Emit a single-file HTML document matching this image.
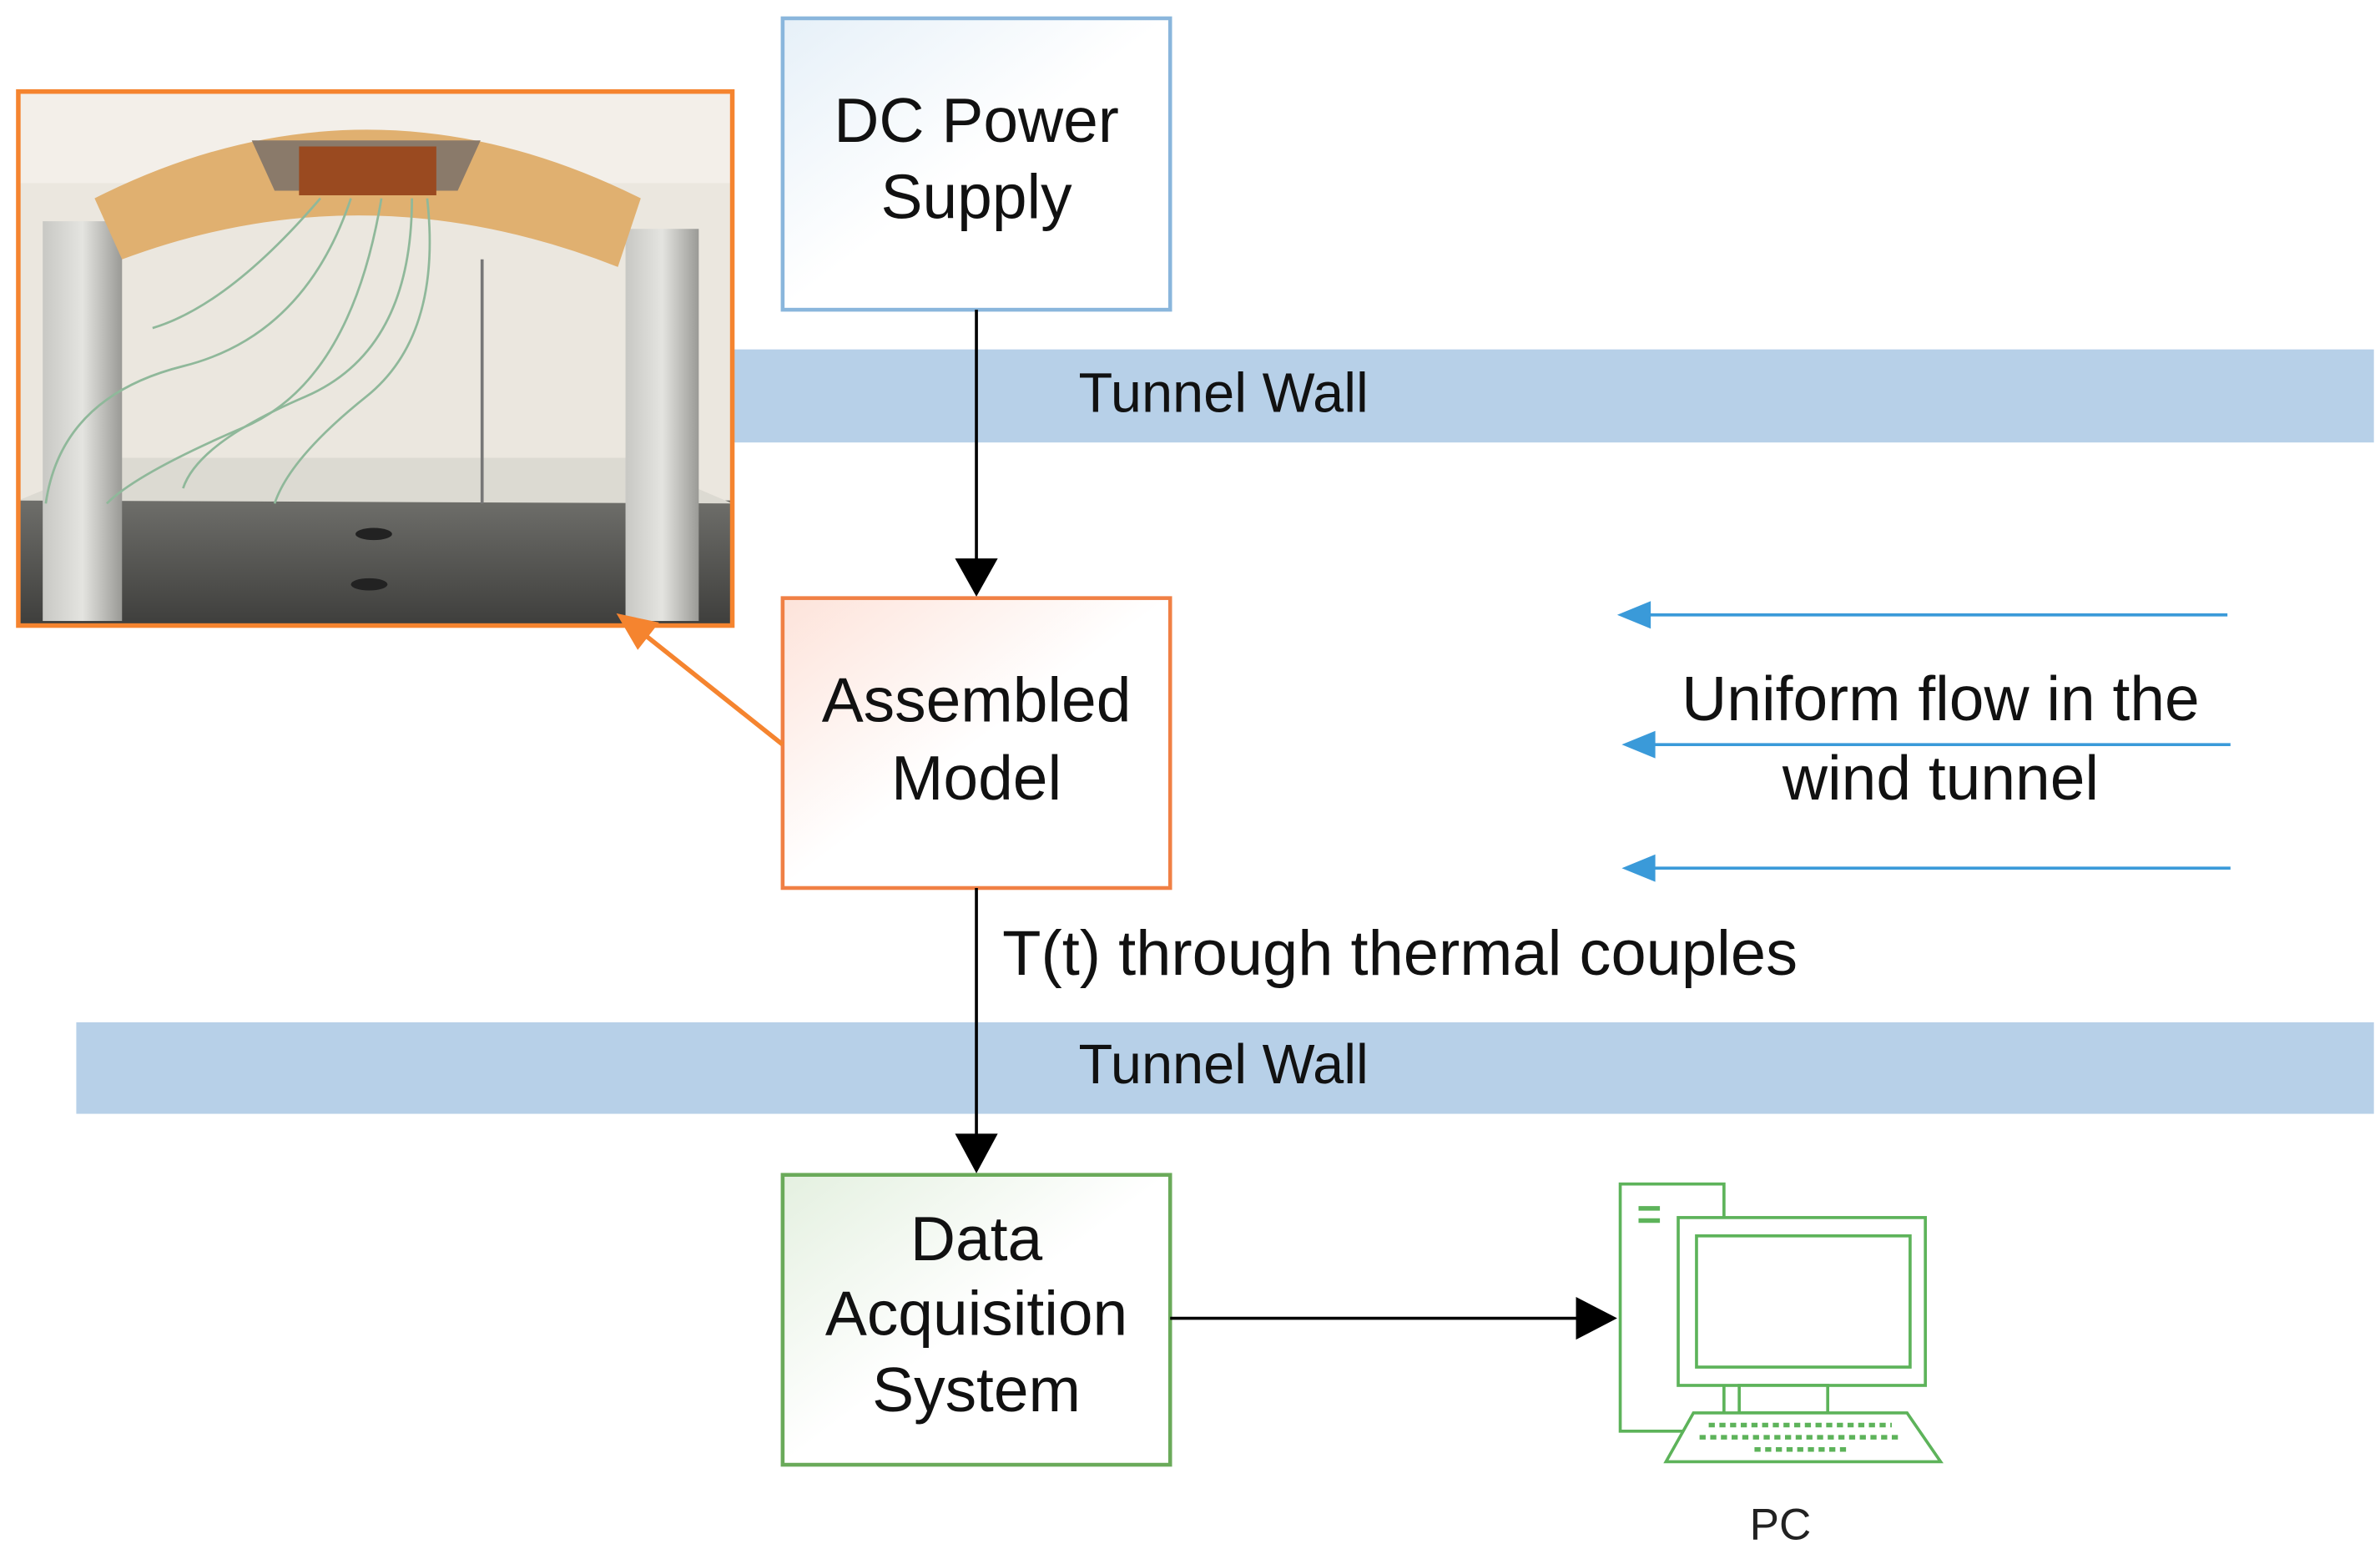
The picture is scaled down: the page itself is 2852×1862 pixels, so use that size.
<!DOCTYPE html>
<html><head><meta charset="utf-8"><style>
html,body{margin:0;padding:0;background:#fff;}
svg{display:block;}
text{font-family:"Liberation Sans",Arial,sans-serif;}
</style></head><body>
<svg width="2852" height="1862" viewBox="0 0 1560 1018.5" preserveAspectRatio="none" xmlns="http://www.w3.org/2000/svg">
<defs>
<linearGradient id="gb" x1="0" y1="0" x2="1" y2="1"><stop offset="0" stop-color="#e6f0f8"/><stop offset="0.5" stop-color="#fff"/></linearGradient>
<linearGradient id="go" x1="0" y1="0" x2="1" y2="1"><stop offset="0" stop-color="#fde3da"/><stop offset="0.5" stop-color="#fff"/></linearGradient>
<linearGradient id="gg" x1="0" y1="0" x2="1" y2="1"><stop offset="0" stop-color="#e4f0e0"/><stop offset="0.5" stop-color="#fff"/></linearGradient>
<linearGradient id="leg" x1="0" y1="0" x2="1" y2="0"><stop offset="0" stop-color="#c8c8c4"/><stop offset="0.5" stop-color="#e4e4e0"/><stop offset="1" stop-color="#9a9a96"/></linearGradient>
<linearGradient id="tbl" x1="0" y1="0" x2="0" y2="1"><stop offset="0" stop-color="#6e6e6a"/><stop offset="1" stop-color="#3e3e3c"/></linearGradient>
</defs>
<rect x="480" y="229" width="1076" height="61" fill="#b7d0e8"/>
<text x="802" y="270" font-size="36.5" text-anchor="middle" fill="#111">Tunnel Wall</text>
<rect x="50" y="670" width="1506" height="60" fill="#b7d0e8"/>
<text x="802" y="710" font-size="36.5" text-anchor="middle" fill="#111">Tunnel Wall</text>
<g>
<rect x="12" y="60" width="468" height="350" fill="#ebe7df"/>
<rect x="12" y="60" width="468" height="60" fill="#f3efe9"/>
<rect x="12" y="328" width="468" height="82" fill="url(#tbl)"/>
<path d="M12 328 L80 300 L410 300 L480 330 Z" fill="#dcdad2"/>
<rect x="28" y="145" width="52" height="262" fill="url(#leg)"/>
<rect x="410" y="150" width="48" height="257" fill="url(#leg)"/>
<line x1="316" y1="170" x2="316" y2="330" stroke="#777" stroke-width="2"/>
<path d="M62 130 Q240 40 420 130 L405 175 Q240 110 80 170 Z" fill="#e0b070"/>
<path d="M165 92 L315 92 L300 125 L180 125 Z" fill="#8a7a6a"/>
<rect x="196" y="96" width="90" height="32" fill="#9a4a20"/>
<g stroke="#8fb89a" stroke-width="1.5" fill="none">
<path d="M230 130 Q200 220 120 240 T30 330"/>
<path d="M250 130 Q230 250 160 280 T70 330"/>
<path d="M270 130 Q270 230 200 260 T120 320"/>
<path d="M280 130 Q290 220 240 260 T180 330"/>
<path d="M210 130 Q150 200 100 215"/>
</g>
<ellipse cx="245" cy="350" rx="12" ry="4" fill="#222"/>
<ellipse cx="242" cy="383" rx="12" ry="4" fill="#222"/>
<rect x="12" y="60" width="468" height="350" fill="none" stroke="#f5842f" stroke-width="3"/>
</g>
<rect x="513" y="12" width="254" height="191" fill="url(#gb)" stroke="#8ab6dc" stroke-width="2.5"/>
<text x="640" y="93" font-size="41" text-anchor="middle" fill="#111">DC Power</text>
<text x="640" y="143" font-size="41" text-anchor="middle" fill="#111">Supply</text>
<rect x="513" y="392" width="254" height="190" fill="url(#go)" stroke="#f08045" stroke-width="2.5"/>
<text x="640" y="473" font-size="41" text-anchor="middle" fill="#111">Assembled</text>
<text x="640" y="524" font-size="41" text-anchor="middle" fill="#111">Model</text>
<rect x="513" y="770" width="254" height="190" fill="url(#gg)" stroke="#6aaa5a" stroke-width="2.5"/>
<text x="640" y="826" font-size="41" text-anchor="middle" fill="#111">Data</text>
<text x="640" y="875" font-size="41" text-anchor="middle" fill="#111">Acquisition</text>
<text x="640" y="925" font-size="41" text-anchor="middle" fill="#111">System</text>
<line x1="640" y1="203" x2="640" y2="368" stroke="#000" stroke-width="2"/>
<polygon points="626,366 654,366 640,391" fill="#000"/>
<line x1="640" y1="582" x2="640" y2="745" stroke="#000" stroke-width="2"/>
<polygon points="626,743 654,743 640,769" fill="#000"/>
<line x1="767" y1="864" x2="1035" y2="864" stroke="#000" stroke-width="2"/>
<polygon points="1033,850 1033,878 1060,864" fill="#000"/>
<line x1="513" y1="488" x2="420" y2="414" stroke="#f5842f" stroke-width="3"/>
<polygon points="404,402 432,408 418,426" fill="#f5842f"/>
<text x="657" y="639" font-size="41.5" fill="#111">T(t) through thermal couples</text>
<g stroke="#3a9ad9" stroke-width="2">
<line x1="1460" y1="403" x2="1078" y2="403"/>
<line x1="1462" y1="488" x2="1080" y2="488"/>
<line x1="1462" y1="569" x2="1080" y2="569"/>
</g>
<g fill="#3a9ad9">
<polygon points="1060,403 1082,394 1082,412"/>
<polygon points="1063,488 1085,479 1085,497"/>
<polygon points="1063,569 1085,560 1085,578"/>
</g>
<text x="1272" y="472" font-size="41" text-anchor="middle" fill="#111">Uniform flow in the</text>
<text x="1272" y="524" font-size="41" text-anchor="middle" fill="#111">wind tunnel</text>
<g fill="#fff" stroke="#5db35a" stroke-width="2">
<rect x="1062" y="776" width="68" height="162"/>
<rect x="1100" y="798" width="162" height="110"/>
<rect x="1112" y="810" width="140" height="86"/>
<rect x="1140" y="908" width="58" height="18"/>
<polygon points="1110,926 1250,926 1272,958 1092,958"/>
</g>
<g stroke="#5db35a" stroke-width="3">
<line x1="1074" y1="792" x2="1088" y2="792"/><line x1="1074" y1="800" x2="1088" y2="800"/>
</g>
<g stroke="#5db35a" stroke-width="3" stroke-dasharray="4 3">
<line x1="1120" y1="934" x2="1240" y2="934"/>
<line x1="1114" y1="942" x2="1246" y2="942"/>
<line x1="1150" y1="950" x2="1210" y2="950"/>
</g>
<text x="1167" y="1009" font-size="29" text-anchor="middle" fill="#222">PC</text>
</svg>
</body></html>
